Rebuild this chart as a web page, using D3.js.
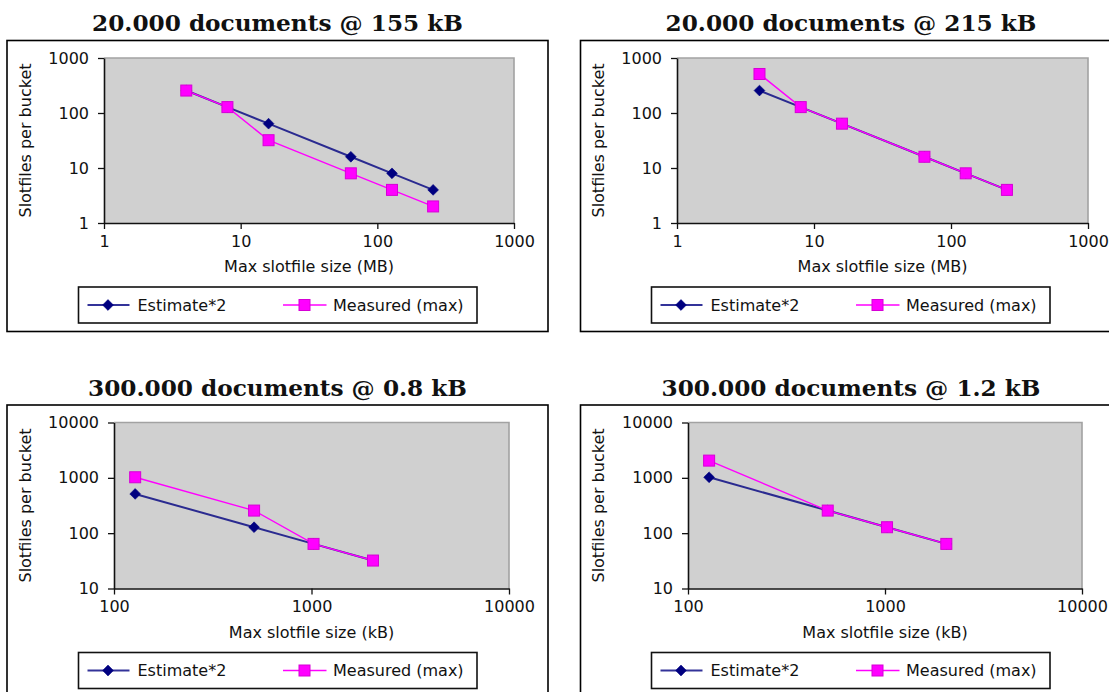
<!DOCTYPE html>
<html>
<head>
<meta charset="utf-8">
<script src="https://cdn.jsdelivr.net/npm/d3@7"></script>
<style>
  body { margin: 0; background: #fff; }
  svg { display: block; }
</style>
</head>
<body>
<svg id="chart" width="1109" height="692"></svg>
<script>
// Slotfile sizing experiments: slotfiles per bucket vs. maximum slotfile size
const sizesMB = [4, 8, 16, 64, 128, 256];
const estimate155 = [256, 128, 64, 16, 8, 4];
const measured155 = [256, 128, 32, 8, 4, 2];
const estimate215 = [256, 128, 64, 16, 8, 4];
const measured215 = [512, 128, 64, 16, 8, 4];

const sizesKB = [128, 512, 1024, 2048];
const estimate08 = [512, 128, 64, 32];
const measured08 = [1024, 256, 64, 32];
const estimate12 = [1024, 256, 128, 64];
const measured12 = [2048, 256, 128, 64];

const titles = [
  "20.000 documents @ 155 kB",
  "20.000 documents @ 215 kB",
  "300.000 documents @ 0.8 kB",
  "300.000 documents @ 1.2 kB"
];
const seriesNames = ["Estimate*2", "Measured (max)"];
const yAxisTitle = "Slotfiles per bucket";
const xAxisTitleMB = "Max slotfile size (MB)";
const xAxisTitleKB = "Max slotfile size (kB)";

const xTicksMB = [1, 10, 100, 1000];
const yTicksTop = [1, 10, 100, 1000];
const xTicksKB = [100, 1000, 10000];
const yTicksBottom = [10, 100, 1000, 10000];

// Panel geometry
const panels = [
  { title: titles[0], xs: sizesMB, est: estimate155, meas: measured155,
    xDomain: [1, 1000], yDomain: [1, 1000], xTicks: xTicksMB, yTicks: yTicksTop, xTitle: xAxisTitleMB,
    frame: [7, 40.5, 541, 291], plot: [104, 514, 58, 223], legend: [78.5, 287], titleX: 277.5, titleY: 31, yLabelX: 30.5 },
  { title: titles[1], xs: sizesMB, est: estimate215, meas: measured215,
    xDomain: [1, 1000], yDomain: [1, 1000], xTicks: xTicksMB, yTicks: yTicksTop, xTitle: xAxisTitleMB,
    frame: [580.5, 40.5, 560, 291], plot: [677, 1088, 58, 223], legend: [651.5, 287], titleX: 851, titleY: 31, yLabelX: 603.5 },
  { title: titles[2], xs: sizesKB, est: estimate08, meas: measured08,
    xDomain: [100, 10000], yDomain: [10, 10000], xTicks: xTicksKB, yTicks: yTicksBottom, xTitle: xAxisTitleKB,
    frame: [7, 405, 541, 300], plot: [114, 509, 422.5, 588.5], legend: [78.5, 652.5], titleX: 277.5, titleY: 396, yLabelX: 30.5 },
  { title: titles[3], xs: sizesKB, est: estimate12, meas: measured12,
    xDomain: [100, 10000], yDomain: [10, 10000], xTicks: xTicksKB, yTicks: yTicksBottom, xTitle: xAxisTitleKB,
    frame: [580.5, 405, 560, 300], plot: [688, 1082, 422.5, 588.5], legend: [651.5, 652.5], titleX: 851, titleY: 396, yLabelX: 603.5 }
];

const estColor = "#000080";
const measColor = "#ff00ff";
const sansFont = "'DejaVu Sans', Verdana, sans-serif";
const svg = d3.select("#chart");

const diamond = d3.symbol().type(d3.symbolDiamond2).size(74);

function drawEstimateMarker(g, x, y) {
  g.append("path").attr("d", diamond).attr("transform", `translate(${x},${y})`)
    .attr("fill", estColor).attr("stroke", estColor).attr("stroke-width", 0.6);
}
function drawMeasuredMarker(g, x, y) {
  g.append("rect").attr("x", x - 5.5).attr("y", y - 5.5).attr("width", 11).attr("height", 11)
    .attr("fill", measColor).attr("stroke", "#d600d6").attr("stroke-width", 1);
}

panels.forEach(p => {
  const g = svg.append("g");
  const [fx, fy, fw, fh] = p.frame;
  const [px0, px1, py0, py1] = p.plot;

  // title
  g.append("text").attr("x", p.titleX).attr("y", p.titleY)
    .attr("text-anchor", "middle")
    .style("font-family", "'DejaVu Serif', serif").style("font-weight", "bold").style("font-size", "23.2px")
    .attr("fill", "#111").text(p.title);

  // outer frame
  g.append("rect").attr("x", fx).attr("y", fy).attr("width", fw).attr("height", fh)
    .attr("fill", "#fff").attr("stroke", "#000").attr("stroke-width", 1.6);

  const x = d3.scaleLog().domain(p.xDomain).range([px0, px1]);
  const y = d3.scaleLog().domain(p.yDomain).range([py1, py0]);

  // plot background with gray top/right border
  g.append("rect").attr("x", px0).attr("y", py0).attr("width", px1 - px0).attr("height", py1 - py0)
    .attr("fill", "#d0d0d0");
  g.append("path").attr("d", `M${px0},${py0}H${px1}V${py1}`)
    .attr("fill", "none").attr("stroke", "#a2a2a2").attr("stroke-width", 1.6);

  // axes
  const xAxis = d3.axisBottom(x).tickValues(p.xTicks).tickFormat(d3.format("d"))
    .tickSize(6).tickSizeOuter(0).tickPadding(6.5);
  const yAxis = d3.axisLeft(y).tickValues(p.yTicks).tickFormat(d3.format("d"))
    .tickSize(6).tickSizeOuter(0).tickPadding(9);

  const gx = g.append("g").attr("transform", `translate(0,${py1})`).call(xAxis);
  const gy = g.append("g").attr("transform", `translate(${px0},0)`).call(yAxis);
  [gx, gy].forEach(a => {
    a.select(".domain").attr("stroke", "#111").attr("stroke-width", 1.6);
    a.selectAll(".tick line").attr("stroke", "#111").attr("stroke-width", 1.3);
    a.selectAll(".tick text").style("font-family", sansFont).style("font-size", "16px").attr("fill", "#111");
  });

  // axis titles
  g.append("text").attr("x", (px0 + px1) / 2).attr("y", py1 + 49)
    .attr("text-anchor", "middle").style("font-family", sansFont).style("font-size", "16px")
    .attr("fill", "#111").text(p.xTitle);
  g.append("text").attr("transform", `translate(${p.yLabelX},${(py0 + py1) / 2}) rotate(-90)`)
    .attr("text-anchor", "middle").style("font-family", sansFont).style("font-size", "16px")
    .attr("fill", "#111").text(yAxisTitle);

  // series
  const line = d3.line().x(d => x(d[0])).y(d => y(d[1]));
  const estPts = p.xs.map((v, i) => [v, p.est[i]]);
  const measPts = p.xs.map((v, i) => [v, p.meas[i]]);

  g.append("path").attr("d", line(estPts)).attr("fill", "none")
    .attr("stroke", estColor).attr("stroke-width", 2).attr("stroke-opacity", 0.8);
  estPts.forEach(d => drawEstimateMarker(g, x(d[0]), y(d[1])));

  g.append("path").attr("d", line(measPts)).attr("fill", "none")
    .attr("stroke", measColor).attr("stroke-width", 1.4);
  measPts.forEach(d => drawMeasuredMarker(g, x(d[0]), y(d[1])));

  // legend
  const [lx, ly] = p.legend;
  const lw = 398.5, lh = 36, lc = ly + lh / 2;
  g.append("rect").attr("x", lx).attr("y", ly).attr("width", lw).attr("height", lh)
    .attr("fill", "#fff").attr("stroke", "#111").attr("stroke-width", 1.6);

  g.append("line").attr("x1", lx + 9).attr("x2", lx + 51).attr("y1", lc).attr("y2", lc)
    .attr("stroke", estColor).attr("stroke-width", 2).attr("stroke-opacity", 0.8);
  drawEstimateMarker(g, lx + 29.5, lc);
  g.append("text").attr("x", lx + 59).attr("y", lc).attr("dy", "0.36em")
    .style("font-family", sansFont).style("font-size", "16px").attr("fill", "#111").text(seriesNames[0]);

  g.append("line").attr("x1", lx + 204.5).attr("x2", lx + 248).attr("y1", lc).attr("y2", lc)
    .attr("stroke", measColor).attr("stroke-width", 1.4);
  drawMeasuredMarker(g, lx + 226, lc);
  g.append("text").attr("x", lx + 254.5).attr("y", lc).attr("dy", "0.36em")
    .style("font-family", sansFont).style("font-size", "16px").attr("fill", "#111").text(seriesNames[1]);
});
</script>
</body>
</html>
